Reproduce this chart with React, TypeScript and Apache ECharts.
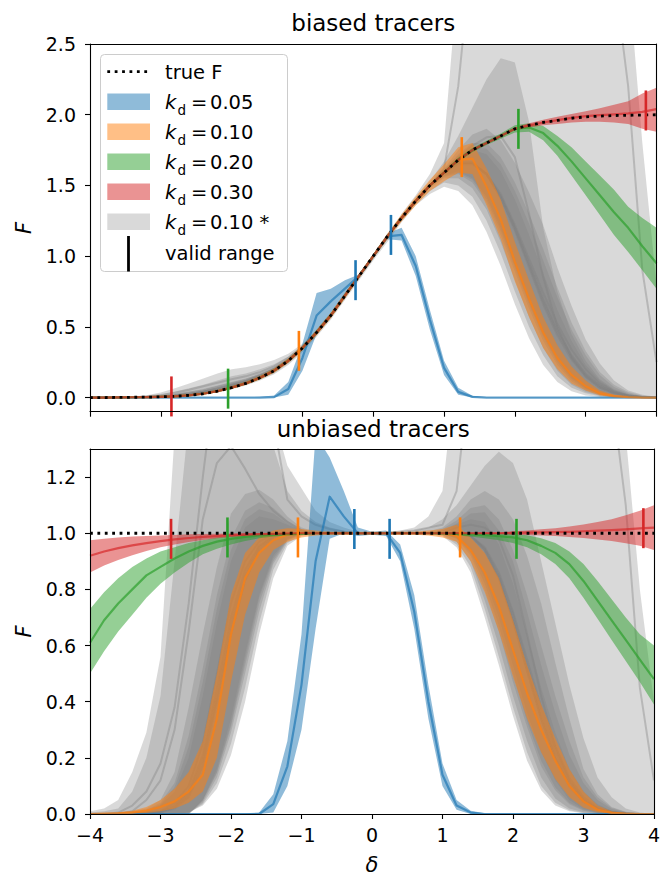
import { useEffect, useRef } from 'react';
import * as echarts from 'echarts';

const FONT = "'DejaVu Sans', 'Noto Sans', sans-serif";

// density contrast grid shared by every curve
const DELTA = [-4.0, -3.8, -3.6, -3.4, -3.2, -3.0, -2.8, -2.6, -2.4, -2.2, -2.0, -1.8, -1.6, -1.4, -1.2, -1.0, -0.8, -0.6, -0.4, -0.2, 0.0, 0.2, 0.4, 0.6, 0.8, 1.0, 1.2, 1.4, 1.6, 1.8, 2.0, 2.2, 2.4, 2.6, 2.8, 3.0, 3.2, 3.4, 3.6, 3.8, 4.0];

const X_TICKS = [-4, -3, -2, -1, 0, 1, 2, 3, 4];
const Y_TICKS_BIASED = [0, 0.5, 1.0, 1.5, 2.0, 2.5];
const Y_TICKS_UNBIASED = [0, 0.2, 0.4, 0.6, 0.8, 1.0, 1.2];

const KD_LABELS = ['0.05', '0.10', '0.20', '0.30'];
const KD_COLORS = ['#1f77b4', '#ff7f0e', '#2ca02c', '#d62728'];
const KD_FILLS = ['rgba(31,119,180,0.5)', 'rgba(255,127,14,0.5)', 'rgba(44,160,44,0.5)', 'rgba(214,39,40,0.5)'];
const STAR_FILL = 'rgba(128,128,128,0.3)';
const STAR_LINE = 'rgba(128,128,128,0.38)';

// ---------- biased tracers ----------
const TRUE_F_BIASED = [0.000, 0.000, 0.001, 0.002, 0.003, 0.005, 0.009, 0.016, 0.027, 0.045, 0.070, 0.100, 0.140, 0.190, 0.260, 0.350, 0.460, 0.580, 0.720, 0.860, 1.000, 1.140, 1.270, 1.390, 1.500, 1.590, 1.680, 1.750, 1.800, 1.850, 1.900, 1.925, 1.945, 1.960, 1.975, 1.985, 1.990, 1.994, 1.996, 1.998, 2.000];

const BIASED_KD005_LO = [0, 0, 0, 0, 0, 0, 0, 0, 0, 0, 0, 0, 0, 0, 0.02, 0.19, 0.45, 0.60, 0.73, 0.85, 0.99, 1.12, 1.11, 0.86, 0.48, 0.16, 0.02, 0, 0, 0, 0, 0, 0, 0, 0, 0, 0, 0, 0, 0, 0];
const BIASED_KD005_MID = [0, 0, 0, 0, 0, 0, 0, 0, 0, 0, 0, 0, 0, 0.003, 0.06, 0.28, 0.58, 0.68, 0.77, 0.86, 1.0, 1.14, 1.15, 0.93, 0.55, 0.21, 0.04, 0.005, 0, 0, 0, 0, 0, 0, 0, 0, 0, 0, 0, 0, 0];
const BIASED_KD005_HI = [0.004, 0.004, 0.004, 0.004, 0.004, 0.004, 0.004, 0.004, 0.004, 0.004, 0.004, 0.004, 0.005, 0.015, 0.11, 0.38, 0.74, 0.77, 0.83, 0.87, 1.01, 1.16, 1.2, 1.0, 0.62, 0.26, 0.07, 0.012, 0.004, 0.004, 0.004, 0.004, 0.004, 0.004, 0.004, 0.004, 0.004, 0.004, 0.004, 0.004, 0.004];

const BIASED_KD010_LO = [0, 0, 0, 0.001, 0.002, 0.003, 0.006, 0.012, 0.022, 0.038, 0.062, 0.09, 0.128, 0.176, 0.244, 0.332, 0.44, 0.56, 0.70, 0.845, 0.985, 1.12, 1.245, 1.36, 1.46, 1.53, 1.59, 1.58, 1.36, 1.12, 0.82, 0.57, 0.35, 0.2, 0.1, 0.05, 0.015, 0.003, 0, 0, 0];
const BIASED_KD010_MID = [0, 0, 0.001, 0.002, 0.003, 0.005, 0.009, 0.016, 0.027, 0.045, 0.07, 0.1, 0.14, 0.19, 0.26, 0.35, 0.46, 0.58, 0.72, 0.86, 1.0, 1.14, 1.27, 1.39, 1.5, 1.59, 1.68, 1.69, 1.49, 1.26, 0.96, 0.70, 0.46, 0.28, 0.16, 0.08, 0.03, 0.01, 0.003, 0, 0];
const BIASED_KD010_HI = [0.002, 0.002, 0.003, 0.004, 0.006, 0.009, 0.014, 0.022, 0.034, 0.054, 0.08, 0.112, 0.153, 0.205, 0.276, 0.368, 0.48, 0.6, 0.74, 0.876, 1.015, 1.16, 1.295, 1.42, 1.54, 1.65, 1.77, 1.80, 1.62, 1.40, 1.10, 0.83, 0.57, 0.37, 0.22, 0.12, 0.05, 0.02, 0.006, 0.002, 0];

const BIASED_KD020_LO = [0, 0, 0, 0.001, 0.002, 0.004, 0.007, 0.013, 0.023, 0.04, 0.064, 0.093, 0.132, 0.18, 0.249, 0.338, 0.448, 0.568, 0.708, 0.848, 0.99, 1.13, 1.26, 1.38, 1.49, 1.58, 1.665, 1.735, 1.785, 1.83, 1.875, 1.88, 1.82, 1.71, 1.57, 1.43, 1.29, 1.15, 1.03, 0.9, 0.77];
const BIASED_KD020_MID = [0, 0, 0.001, 0.002, 0.003, 0.005, 0.009, 0.016, 0.027, 0.045, 0.07, 0.1, 0.14, 0.19, 0.26, 0.35, 0.46, 0.58, 0.72, 0.86, 1.0, 1.14, 1.27, 1.39, 1.5, 1.59, 1.68, 1.75, 1.8, 1.85, 1.90, 1.91, 1.87, 1.78, 1.67, 1.55, 1.43, 1.31, 1.2, 1.07, 0.95];
const BIASED_KD020_HI = [0.001, 0.001, 0.002, 0.003, 0.005, 0.007, 0.012, 0.02, 0.032, 0.051, 0.077, 0.108, 0.149, 0.2, 0.271, 0.362, 0.472, 0.592, 0.732, 0.872, 1.01, 1.15, 1.28, 1.4, 1.51, 1.6, 1.695, 1.765, 1.815, 1.868, 1.925, 1.94, 1.92, 1.85, 1.77, 1.67, 1.57, 1.47, 1.35, 1.27, 1.2];

const BIASED_KD030_LO = [0, 0, 0, 0.001, 0.002, 0.004, 0.007, 0.014, 0.024, 0.041, 0.065, 0.095, 0.134, 0.183, 0.252, 0.342, 0.452, 0.572, 0.712, 0.852, 0.992, 1.132, 1.262, 1.382, 1.492, 1.582, 1.672, 1.742, 1.792, 1.842, 1.89, 1.91, 1.925, 1.935, 1.945, 1.95, 1.95, 1.945, 1.935, 1.9, 1.88];
const BIASED_KD030_MID = [0, 0, 0.001, 0.002, 0.003, 0.005, 0.009, 0.016, 0.027, 0.045, 0.07, 0.1, 0.14, 0.19, 0.26, 0.35, 0.46, 0.58, 0.72, 0.86, 1.0, 1.14, 1.27, 1.39, 1.5, 1.59, 1.68, 1.75, 1.8, 1.85, 1.9, 1.925, 1.945, 1.962, 1.978, 1.99, 1.997, 2.003, 2.01, 2.02, 2.04];
const BIASED_KD030_HI = [0.001, 0.001, 0.002, 0.003, 0.004, 0.006, 0.011, 0.018, 0.03, 0.049, 0.075, 0.105, 0.146, 0.197, 0.268, 0.358, 0.468, 0.588, 0.728, 0.868, 1.008, 1.148, 1.278, 1.398, 1.508, 1.598, 1.688, 1.758, 1.808, 1.858, 1.91, 1.94, 1.965, 1.985, 2.005, 2.025, 2.045, 2.07, 2.095, 2.15, 2.19];

// k_d = 0.10 * realisations
const BIASED_STAR1_LO = [0, 0, 0, 0.001, 0.002, 0.004, 0.007, 0.013, 0.022, 0.037, 0.058, 0.085, 0.12, 0.165, 0.23, 0.32, 0.43, 0.55, 0.69, 0.83, 0.97, 1.1, 1.24, 1.36, 1.44, 1.49, 1.46, 1.36, 1.17, 0.93, 0.66, 0.42, 0.23, 0.11, 0.045, 0.015, 0.004, 0, 0, 0, 0];
const BIASED_STAR1_MID = [0, 0, 0.001, 0.003, 0.008, 0.018, 0.034, 0.055, 0.08, 0.105, 0.13, 0.15, 0.18, 0.22, 0.28, 0.36, 0.47, 0.59, 0.73, 0.865, 1.0, 1.14, 1.27, 1.39, 1.5, 1.62, 2.2, 3.2, 3.2, 3.2, 3.2, 3.2, 3.2, 3.2, 3.2, 3.2, 3.2, 3.0, 2.2, 0.9, 0.25];
const BIASED_STAR1_HI = [0, 0.0005, 0.002, 0.006, 0.016, 0.035, 0.065, 0.1, 0.135, 0.17, 0.2, 0.215, 0.235, 0.265, 0.31, 0.38, 0.48, 0.6, 0.735, 0.87, 1.01, 1.15, 1.3, 1.43, 1.58, 1.8, 3, 3, 3, 3, 3, 3, 3, 3, 3, 3, 3, 3, 3, 1.8, 0.8];

const BIASED_STAR2_LO = [0, 0, 0.001, 0.001, 0.002, 0.004, 0.008, 0.014, 0.024, 0.04, 0.062, 0.09, 0.127, 0.172, 0.24, 0.33, 0.44, 0.56, 0.70, 0.84, 0.98, 1.12, 1.25, 1.37, 1.46, 1.52, 1.5, 1.42, 1.25, 1.02, 0.75, 0.5, 0.3, 0.15, 0.07, 0.03, 0.01, 0.003, 0, 0, 0];
const BIASED_STAR2_MID = [0, 0, 0.001, 0.002, 0.005, 0.01, 0.02, 0.035, 0.05, 0.075, 0.1, 0.125, 0.16, 0.2, 0.265, 0.355, 0.465, 0.585, 0.725, 0.862, 1.0, 1.14, 1.27, 1.39, 1.5, 1.6, 1.7, 1.78, 1.84, 1.85, 1.7, 1.3, 0.85, 0.5, 0.28, 0.15, 0.07, 0.03, 0.01, 0.003, 0];
const BIASED_STAR2_HI = [0, 0, 0.001, 0.004, 0.01, 0.022, 0.042, 0.065, 0.09, 0.12, 0.15, 0.17, 0.2, 0.235, 0.29, 0.37, 0.475, 0.595, 0.73, 0.866, 1.005, 1.145, 1.29, 1.41, 1.53, 1.67, 1.85, 2.05, 2.25, 2.4, 2.37, 1.95, 1.2, 0.75, 0.45, 0.26, 0.13, 0.06, 0.025, 0.008, 0.002];

const BIASED_STAR3_LO = [0, 0, 0, 0.001, 0.002, 0.004, 0.008, 0.015, 0.025, 0.042, 0.065, 0.094, 0.132, 0.18, 0.248, 0.338, 0.448, 0.568, 0.708, 0.848, 0.985, 1.125, 1.265, 1.385, 1.48, 1.55, 1.55, 1.48, 1.33, 1.1, 0.83, 0.57, 0.35, 0.19, 0.09, 0.04, 0.015, 0.004, 0, 0, 0];
const BIASED_STAR3_MID = [0, 0, 0, 0.002, 0.004, 0.008, 0.015, 0.026, 0.042, 0.063, 0.088, 0.115, 0.152, 0.2, 0.265, 0.353, 0.462, 0.58, 0.72, 0.858, 1.0, 1.14, 1.27, 1.39, 1.5, 1.59, 1.65, 1.65, 1.58, 1.44, 1.22, 0.98, 0.74, 0.52, 0.34, 0.2, 0.1, 0.045, 0.015, 0.004, 0];
const BIASED_STAR3_HI = [0, 0, 0.001, 0.003, 0.007, 0.014, 0.025, 0.04, 0.06, 0.085, 0.11, 0.135, 0.17, 0.215, 0.278, 0.365, 0.472, 0.59, 0.728, 0.865, 1.003, 1.143, 1.28, 1.4, 1.51, 1.62, 1.75, 1.86, 1.9, 1.82, 1.66, 1.45, 1.22, 0.92, 0.65, 0.41, 0.24, 0.12, 0.05, 0.02, 0.005];

const BIASED_STAR4_LO = [0, 0, 0, 0.001, 0.002, 0.004, 0.008, 0.015, 0.026, 0.043, 0.067, 0.096, 0.135, 0.183, 0.252, 0.342, 0.452, 0.572, 0.712, 0.852, 0.99, 1.13, 1.268, 1.385, 1.49, 1.57, 1.6, 1.55, 1.42, 1.2, 0.94, 0.68, 0.45, 0.27, 0.14, 0.065, 0.025, 0.008, 0.002, 0, 0];
const BIASED_STAR4_MID = [0, 0, 0, 0.002, 0.003, 0.006, 0.011, 0.02, 0.032, 0.05, 0.076, 0.105, 0.145, 0.195, 0.262, 0.352, 0.46, 0.58, 0.72, 0.858, 1.0, 1.14, 1.272, 1.39, 1.5, 1.59, 1.66, 1.66, 1.58, 1.41, 1.18, 0.92, 0.66, 0.44, 0.27, 0.15, 0.07, 0.03, 0.01, 0.002, 0];
const BIASED_STAR4_HI = [0, 0, 0.001, 0.002, 0.004, 0.008, 0.014, 0.024, 0.038, 0.058, 0.085, 0.115, 0.155, 0.205, 0.272, 0.36, 0.468, 0.586, 0.725, 0.863, 1.002, 1.142, 1.275, 1.395, 1.505, 1.6, 1.69, 1.75, 1.72, 1.6, 1.4, 1.15, 0.88, 0.62, 0.4, 0.23, 0.12, 0.05, 0.02, 0.005, 0];

const BIASED_STAR5_LO = [0, 0, 0, 0.001, 0.002, 0.004, 0.008, 0.015, 0.025, 0.042, 0.066, 0.095, 0.133, 0.181, 0.25, 0.34, 0.45, 0.57, 0.71, 0.85, 0.988, 1.128, 1.266, 1.385, 1.485, 1.56, 1.58, 1.52, 1.38, 1.15, 0.89, 0.63, 0.4, 0.23, 0.115, 0.05, 0.02, 0.006, 0.001, 0, 0];
const BIASED_STAR5_MID = [0, 0, 0, 0.002, 0.003, 0.007, 0.013, 0.023, 0.037, 0.056, 0.082, 0.11, 0.148, 0.197, 0.263, 0.352, 0.461, 0.58, 0.72, 0.858, 1.0, 1.14, 1.27, 1.39, 1.5, 1.59, 1.66, 1.66, 1.58, 1.42, 1.2, 0.95, 0.7, 0.48, 0.3, 0.17, 0.085, 0.038, 0.014, 0.004, 0];
const BIASED_STAR5_HI = [0, 0, 0.001, 0.003, 0.005, 0.011, 0.02, 0.032, 0.049, 0.072, 0.098, 0.125, 0.162, 0.21, 0.275, 0.362, 0.47, 0.588, 0.727, 0.864, 1.003, 1.143, 1.278, 1.398, 1.508, 1.61, 1.72, 1.8, 1.8, 1.7, 1.52, 1.3, 1.05, 0.78, 0.53, 0.33, 0.18, 0.09, 0.04, 0.015, 0.004];

const BIASED_STAR6_LO = [0, 0, 0, 0.001, 0.002, 0.004, 0.008, 0.015, 0.025, 0.042, 0.066, 0.095, 0.133, 0.181, 0.25, 0.34, 0.45, 0.57, 0.71, 0.85, 0.99, 1.13, 1.268, 1.386, 1.49, 1.565, 1.59, 1.54, 1.4, 1.18, 0.92, 0.66, 0.43, 0.25, 0.13, 0.06, 0.022, 0.007, 0.002, 0, 0];
const BIASED_STAR6_MID = [0, 0, 0, 0.002, 0.003, 0.007, 0.013, 0.023, 0.037, 0.056, 0.082, 0.11, 0.148, 0.197, 0.263, 0.352, 0.461, 0.58, 0.72, 0.858, 1.0, 1.14, 1.272, 1.39, 1.5, 1.59, 1.66, 1.66, 1.58, 1.42, 1.2, 0.94, 0.68, 0.46, 0.29, 0.16, 0.08, 0.035, 0.012, 0.003, 0];
const BIASED_STAR6_HI = [0, 0, 0.001, 0.003, 0.005, 0.011, 0.02, 0.032, 0.049, 0.072, 0.098, 0.125, 0.162, 0.21, 0.275, 0.362, 0.47, 0.588, 0.727, 0.864, 1.002, 1.142, 1.276, 1.396, 1.506, 1.605, 1.7, 1.77, 1.76, 1.65, 1.46, 1.23, 0.97, 0.71, 0.48, 0.3, 0.16, 0.075, 0.03, 0.01, 0.002];

// ---------- unbiased tracers ----------
const TRUE_F_UNBIASED_DELTA = [-4, 4];
const TRUE_F_UNBIASED = [1, 1];

const UNBIASED_KD005_LO = [0, 0, 0, 0, 0, 0, 0, 0, 0, 0, 0, 0, 0, 0.005, 0.1, 0.3, 0.66, 0.98, 1.0, 0.99, 0.995, 0.99, 0.9, 0.66, 0.34, 0.1, 0.015, 0, 0, 0, 0, 0, 0, 0, 0, 0, 0, 0, 0, 0, 0];
const UNBIASED_KD005_MID = [0, 0, 0, 0, 0, 0, 0, 0, 0, 0, 0, 0, 0, 0.035, 0.17, 0.46, 0.9, 1.13, 1.06, 1.0, 1.0, 1.0, 0.93, 0.72, 0.40, 0.14, 0.03, 0.005, 0, 0, 0, 0, 0, 0, 0, 0, 0, 0, 0, 0, 0];
const UNBIASED_KD005_HI = [0.003, 0.003, 0.003, 0.003, 0.003, 0.003, 0.003, 0.003, 0.003, 0.003, 0.003, 0.003, 0.005, 0.07, 0.26, 0.64, 1.35, 1.27, 1.15, 1.02, 1.005, 1.01, 0.96, 0.78, 0.46, 0.18, 0.05, 0.012, 0.003, 0.003, 0.003, 0.003, 0.003, 0.003, 0.003, 0.003, 0.003, 0.003, 0.003, 0.003, 0.003];

const UNBIASED_KD010_LO = [0, 0, 0, 0.001, 0.004, 0.01, 0.02, 0.04, 0.08, 0.2, 0.47, 0.71, 0.86, 0.94, 0.97, 0.985, 0.992, 0.995, 0.995, 0.995, 0.995, 0.995, 0.995, 0.995, 0.992, 0.985, 0.97, 0.9, 0.79, 0.65, 0.49, 0.34, 0.22, 0.125, 0.06, 0.022, 0.006, 0.001, 0, 0, 0];
const UNBIASED_KD010_MID = [0, 0.001, 0.002, 0.005, 0.012, 0.025, 0.045, 0.08, 0.14, 0.34, 0.64, 0.84, 0.93, 0.975, 0.995, 1.0, 1.0, 1.0, 1.0, 1.0, 1.0, 1.0, 1.0, 1.0, 1.0, 1.0, 0.99, 0.94, 0.86, 0.74, 0.585, 0.43, 0.30, 0.19, 0.10, 0.045, 0.015, 0.004, 0.001, 0, 0];
const UNBIASED_KD010_HI = [0.003, 0.004, 0.006, 0.012, 0.025, 0.05, 0.09, 0.15, 0.26, 0.5, 0.78, 0.93, 0.985, 1.01, 1.018, 1.015, 1.01, 1.005, 1.005, 1.005, 1.005, 1.005, 1.005, 1.005, 1.01, 1.015, 1.03, 0.985, 0.93, 0.84, 0.69, 0.53, 0.39, 0.27, 0.16, 0.08, 0.03, 0.01, 0.003, 0.001, 0];

const UNBIASED_KD020_LO = [0.50, 0.58, 0.65, 0.71, 0.77, 0.82, 0.86, 0.895, 0.925, 0.945, 0.96, 0.972, 0.982, 0.988, 0.992, 0.995, 0.997, 0.997, 0.997, 0.997, 0.997, 0.997, 0.997, 0.997, 0.997, 0.995, 0.992, 0.988, 0.982, 0.975, 0.965, 0.95, 0.925, 0.89, 0.84, 0.77, 0.695, 0.62, 0.545, 0.47, 0.39];
const UNBIASED_KD020_MID = [0.61, 0.69, 0.75, 0.80, 0.85, 0.88, 0.91, 0.935, 0.955, 0.97, 0.98, 0.987, 0.992, 0.995, 0.997, 0.998, 1.0, 1.0, 1.0, 1.0, 1.0, 1.0, 1.0, 1.0, 1.0, 1.0, 0.998, 0.996, 0.993, 0.99, 0.985, 0.975, 0.955, 0.93, 0.89, 0.83, 0.76, 0.69, 0.62, 0.55, 0.48];
const UNBIASED_KD020_HI = [0.73, 0.79, 0.84, 0.88, 0.91, 0.935, 0.95, 0.965, 0.975, 0.985, 0.99, 0.995, 0.998, 1.0, 1.0, 1.0, 1.003, 1.003, 1.003, 1.003, 1.003, 1.003, 1.003, 1.003, 1.003, 1.003, 1.003, 1.002, 1.0, 1.0, 0.998, 0.993, 0.982, 0.965, 0.935, 0.89, 0.83, 0.765, 0.7, 0.64, 0.6];

const UNBIASED_KD030_LO = [0.86, 0.885, 0.905, 0.922, 0.937, 0.95, 0.96, 0.969, 0.976, 0.982, 0.987, 0.99, 0.993, 0.995, 0.996, 0.997, 0.997, 0.997, 0.997, 0.997, 0.997, 0.997, 0.997, 0.997, 0.997, 0.997, 0.997, 0.997, 0.997, 0.997, 0.995, 0.994, 0.992, 0.99, 0.987, 0.983, 0.978, 0.972, 0.964, 0.955, 0.94];
const UNBIASED_KD030_MID = [0.92, 0.935, 0.947, 0.957, 0.965, 0.972, 0.978, 0.983, 0.987, 0.99, 0.993, 0.995, 0.997, 0.998, 0.999, 1.0, 1.0, 1.0, 1.0, 1.0, 1.0, 1.0, 1.0, 1.0, 1.0, 1.0, 1.0, 1.0, 1.0, 1.0, 1.001, 1.002, 1.003, 1.004, 1.005, 1.007, 1.009, 1.011, 1.014, 1.017, 1.02];
const UNBIASED_KD030_HI = [0.975, 0.98, 0.985, 0.988, 0.99, 0.992, 0.994, 0.996, 0.997, 0.998, 0.999, 1.0, 1.0, 1.0, 1.0, 1.003, 1.003, 1.003, 1.003, 1.003, 1.003, 1.003, 1.003, 1.003, 1.003, 1.003, 1.003, 1.003, 1.003, 1.003, 1.007, 1.01, 1.014, 1.018, 1.024, 1.031, 1.04, 1.05, 1.064, 1.08, 1.10];

const UNBIASED_STAR1_LO = [0, 0, 0, 0, 0, 0, 0, 0.005, 0.03, 0.09, 0.21, 0.40, 0.64, 0.84, 0.955, 0.99, 0.997, 0.999, 1, 1, 1, 1, 1, 0.999, 0.997, 0.99, 0.95, 0.86, 0.70, 0.53, 0.35, 0.19, 0.085, 0.03, 0.01, 0.003, 0, 0, 0, 0, 0];
const UNBIASED_STAR1_MID = [0, 0, 0.005, 0.03, 0.08, 0.18, 0.38, 0.75, 1.2, 1.6, 1.8, 1.8, 1.7, 1.4, 1.12, 1.06, 1.03, 1.015, 1.005, 1.0, 1.0, 1.0, 1.005, 1.01, 1.02, 1.03, 1.15, 1.6, 2, 2, 2, 2, 2, 2, 2, 2, 1.8, 1.5, 1.1, 0.45, 0.12];
const UNBIASED_STAR1_HI = [0.01, 0.02, 0.05, 0.15, 0.29, 0.56, 1.35, 2, 2, 2, 2, 2, 2, 1.42, 1.24, 1.16, 1.08, 1.04, 1.02, 1.005, 1.0, 1.005, 1.01, 1.02, 1.06, 1.15, 1.6, 2, 2, 2, 2, 2, 2, 2, 2, 2, 2, 2, 1.35, 0.8, 0.4];

const UNBIASED_STAR2_LO = [0, 0, 0, 0, 0, 0, 0, 0.005, 0.035, 0.11, 0.25, 0.45, 0.68, 0.87, 0.965, 0.993, 0.998, 0.999, 1, 1, 1, 1, 1, 0.999, 0.998, 0.993, 0.96, 0.88, 0.73, 0.56, 0.38, 0.22, 0.10, 0.04, 0.013, 0.004, 0, 0, 0, 0, 0];
const UNBIASED_STAR2_MID = [0, 0, 0, 0.01, 0.05, 0.12, 0.3, 0.65, 1.05, 1.25, 1.31, 1.23, 1.14, 1.08, 1.04, 1.01, 1.0, 1.0, 1.0, 1.0, 1.0, 1.0, 1.0, 1.0, 1.0, 1.0, 1.02, 1.03, 1.02, 0.98, 0.85, 0.64, 0.42, 0.24, 0.12, 0.05, 0.02, 0.005, 0, 0, 0];
const UNBIASED_STAR2_HI = [0.005, 0.01, 0.02, 0.08, 0.2, 0.42, 0.9, 1.4, 1.7, 1.8, 1.8, 1.6, 1.45, 1.31, 1.15, 1.08, 1.04, 1.02, 1.01, 1.0, 1.0, 1.0, 1.0, 1.01, 1.02, 1.05, 1.1, 1.17, 1.24, 1.29, 1.25, 1.12, 0.9, 0.68, 0.46, 0.27, 0.13, 0.06, 0.02, 0.005, 0];

const UNBIASED_STAR3_LO = [0, 0, 0, 0, 0, 0, 0, 0, 0.04, 0.13, 0.29, 0.50, 0.72, 0.89, 0.972, 0.995, 0.999, 1, 1, 1, 1, 1, 1, 1, 0.999, 0.995, 0.97, 0.9, 0.76, 0.6, 0.42, 0.26, 0.13, 0.055, 0.02, 0.006, 0.001, 0, 0, 0, 0];
const UNBIASED_STAR3_MID = [0, 0, 0, 0, 0.005, 0.01, 0.04, 0.1, 0.25, 0.5, 0.75, 0.9, 0.97, 0.995, 1.0, 1.0, 1.0, 1.0, 1.0, 1.0, 1.0, 1.0, 1.0, 1.0, 1.0, 1.0, 1.0, 0.99, 0.95, 0.86, 0.72, 0.55, 0.38, 0.24, 0.13, 0.06, 0.025, 0.008, 0.002, 0, 0];
const UNBIASED_STAR3_HI = [0, 0.002, 0.005, 0.01, 0.02, 0.05, 0.15, 0.38, 0.64, 0.88, 1.07, 1.14, 1.155, 1.12, 1.06, 1.02, 1.005, 1.0, 1.0, 1.0, 1.0, 1.0, 1.0, 1.0, 1.005, 1.02, 1.06, 1.12, 1.15, 1.12, 1.05, 0.92, 0.75, 0.54, 0.34, 0.16, 0.07, 0.025, 0.008, 0.002, 0];

const UNBIASED_STAR4_LO = [0, 0, 0, 0, 0, 0, 0, 0, 0.05, 0.16, 0.34, 0.57, 0.78, 0.92, 0.98, 0.998, 1, 1, 1, 1, 1, 1, 1, 1, 1, 0.998, 0.985, 0.94, 0.84, 0.7, 0.53, 0.36, 0.22, 0.12, 0.05, 0.018, 0.005, 0.001, 0, 0, 0];
const UNBIASED_STAR4_MID = [0, 0, 0, 0, 0, 0.005, 0.02, 0.06, 0.17, 0.4, 0.64, 0.83, 0.94, 0.985, 1.0, 1.0, 1.0, 1.0, 1.0, 1.0, 1.0, 1.0, 1.0, 1.0, 1.0, 1.0, 1.0, 0.99, 0.94, 0.84, 0.69, 0.51, 0.34, 0.2, 0.1, 0.045, 0.017, 0.005, 0.001, 0, 0];
const UNBIASED_STAR4_HI = [0, 0, 0.001, 0.003, 0.008, 0.03, 0.08, 0.2, 0.42, 0.68, 0.9, 1.02, 1.06, 1.05, 1.03, 1.01, 1.0, 1.0, 1.0, 1.0, 1.0, 1.0, 1.0, 1.0, 1.0, 1.01, 1.03, 1.05, 1.04, 0.96, 0.82, 0.64, 0.45, 0.29, 0.16, 0.08, 0.035, 0.012, 0.004, 0.001, 0];

const UNBIASED_STAR5_LO = [0, 0, 0, 0, 0, 0, 0, 0, 0.045, 0.145, 0.31, 0.53, 0.75, 0.9, 0.975, 0.997, 1, 1, 1, 1, 1, 1, 1, 1, 1, 0.997, 0.98, 0.92, 0.8, 0.65, 0.47, 0.31, 0.17, 0.085, 0.035, 0.012, 0.003, 0, 0, 0, 0];
const UNBIASED_STAR5_MID = [0, 0, 0, 0, 0.003, 0.008, 0.03, 0.08, 0.21, 0.45, 0.7, 0.87, 0.955, 0.99, 1, 1, 1, 1, 1, 1, 1, 1, 1, 1, 1, 1, 1, 0.99, 0.945, 0.85, 0.71, 0.53, 0.36, 0.22, 0.115, 0.052, 0.02, 0.006, 0.001, 0, 0];
const UNBIASED_STAR5_HI = [0, 0.001, 0.003, 0.006, 0.014, 0.04, 0.11, 0.28, 0.52, 0.78, 0.98, 1.08, 1.11, 1.09, 1.045, 1.015, 1.002, 1, 1, 1, 1, 1, 1, 1, 1.002, 1.015, 1.045, 1.09, 1.1, 1.05, 0.94, 0.78, 0.6, 0.42, 0.26, 0.13, 0.06, 0.022, 0.007, 0.002, 0];

const UNBIASED_STAR6_LO = [0, 0, 0, 0, 0, 0, 0, 0, 0.05, 0.15, 0.32, 0.55, 0.77, 0.91, 0.978, 0.997, 1, 1, 1, 1, 1, 1, 1, 1, 1, 0.998, 0.982, 0.93, 0.82, 0.67, 0.5, 0.33, 0.19, 0.095, 0.04, 0.014, 0.004, 0, 0, 0, 0];
const UNBIASED_STAR6_MID = [0, 0, 0, 0, 0.002, 0.007, 0.025, 0.07, 0.19, 0.42, 0.67, 0.85, 0.95, 0.988, 1, 1, 1, 1, 1, 1, 1, 1, 1, 1, 1, 1, 1, 0.99, 0.94, 0.84, 0.69, 0.51, 0.34, 0.2, 0.1, 0.045, 0.017, 0.005, 0.001, 0, 0];
const UNBIASED_STAR6_HI = [0, 0, 0.002, 0.005, 0.011, 0.035, 0.095, 0.24, 0.47, 0.73, 0.94, 1.05, 1.085, 1.07, 1.035, 1.01, 1.001, 1, 1, 1, 1, 1, 1, 1, 1.001, 1.01, 1.035, 1.07, 1.075, 1.01, 0.9, 0.72, 0.53, 0.36, 0.21, 0.11, 0.05, 0.018, 0.006, 0.002, 0];

// valid range ends: which k_d, where, and the curve value there
const VALID_KD_INDEX = [0, 0, 1, 1, 2, 2, 3, 3];
const VALID_DELTA = [-0.25, 0.25, -1.05, 1.25, -2.05, 2.05, -2.85, 3.85];
const VALID_F_BIASED = [0.83, 1.15, 0.33, 1.70, 0.063, 1.90, 0.008, 2.03];
const VALID_F_UNBIASED = [1.015, 0.98, 0.985, 0.985, 0.985, 0.98, 0.98, 1.018];

// layout of the two panels (pixels)
const PLOT_LEFT = 90;
const PLOT_WIDTH = 566.5;
const PLOT_HEIGHT = 367.7;
const TOP_PANEL_Y = 44;
const BOTTOM_PANEL_Y = 449;
const MARKER_HALF = 20;

function band(gridIndex: number, lo: number[], hi: number[], fill: string, z: number) {
  return {
    type: 'custom',
    xAxisIndex: gridIndex,
    yAxisIndex: gridIndex,
    clip: true,
    silent: true,
    z,
    data: DELTA.map((x, i) => [x, lo[i], hi[i]]),
    encode: { x: 0, y: [1, 2] },
    renderItem: (params: any, api: any) => {
      if (params.dataIndex !== 0) return null;
      const upper: number[][] = [];
      const lower: number[][] = [];
      for (let i = 0; i < DELTA.length; i++) {
        upper.push(api.coord([DELTA[i], hi[i]]));
        lower.push(api.coord([DELTA[i], lo[i]]));
      }
      return {
        type: 'polygon',
        shape: { points: upper.concat(lower.reverse()) },
        style: { fill, stroke: null },
      };
    },
  };
}

function curve(gridIndex: number, xs: number[], ys: number[], color: string, width: number, z: number, dash?: number[]) {
  return {
    type: 'line',
    xAxisIndex: gridIndex,
    yAxisIndex: gridIndex,
    data: xs.map((x, i) => [x, ys[i]]),
    showSymbol: false,
    symbol: 'none',
    silent: true,
    animation: false,
    z,
    lineStyle: { color, width, type: dash ?? 'solid', cap: 'butt', join: 'round' },
    emphasis: { disabled: true },
  };
}

function validMarks(gridIndex: number, fs: number[]) {
  return {
    type: 'custom',
    xAxisIndex: gridIndex,
    yAxisIndex: gridIndex,
    clip: false,
    silent: true,
    z: 8,
    data: VALID_DELTA.map((x, i) => [x, fs[i], VALID_KD_INDEX[i]]),
    encode: { x: 0, y: 1 },
    renderItem: (_params: any, api: any) => {
      const p = api.coord([api.value(0), api.value(1)]);
      return {
        type: 'line',
        shape: { x1: p[0], y1: p[1] - MARKER_HALF, x2: p[0], y2: p[1] + MARKER_HALF },
        style: { stroke: KD_COLORS[api.value(2)], lineWidth: 2.6 },
      };
    },
  };
}

function panelSeries(
  gridIndex: number,
  stars: number[][][],
  kds: number[][][],
  trueX: number[],
  trueF: number[],
  validF: number[],
) {
  const out: any[] = [];
  stars.forEach(([lo, , hi]) => out.push(band(gridIndex, lo, hi, STAR_FILL, 1)));
  stars.forEach(([, mid]) => out.push(curve(gridIndex, DELTA, mid, STAR_LINE, 2, 2)));
  kds.forEach(([lo, , hi], k) => out.push(band(gridIndex, lo, hi, KD_FILLS[k], 3)));
  kds.forEach(([, mid], k) => out.push(curve(gridIndex, DELTA, mid, KD_COLORS[k] + 'b0', 2.2, 4)));
  out.push(curve(gridIndex, trueX, trueF, '#000', 2.8, 6, [2.8, 4.6]));
  out.push(validMarks(gridIndex, validF));
  return out;
}

const AXIS_LINE = { show: true, onZero: false, lineStyle: { color: '#000', width: 1.1 } };
const TICK_FONT = { fontFamily: FONT, fontSize: 19, color: '#000' };
const minusFmt = (v: number) => (v < 0 ? '\u2212' + Math.abs(v) : String(v));

function xAxisFor(gridIndex: number, labels: boolean) {
  return {
    type: 'value',
    gridIndex,
    min: -4,
    max: 4,
    interval: 1,
    z: 10,
    splitLine: { show: false },
    axisLine: AXIS_LINE,
    axisTick: { show: true, inside: false, length: 5, lineStyle: { color: '#000', width: 1.1 } },
    axisLabel: { show: labels, ...TICK_FONT, margin: 11, formatter: minusFmt, customValues: X_TICKS },
    ...(labels
      ? {
          name: 'δ',
          nameLocation: 'middle',
          nameGap: 40,
          nameTextStyle: { fontFamily: FONT, fontSize: 21, fontStyle: 'italic', color: '#000' },
        }
      : {}),
  };
}

function spineX(gridIndex: number) {
  return {
    type: 'value', gridIndex, position: 'top', min: -4, max: 4, z: 10,
    axisLine: AXIS_LINE, axisTick: { show: false }, axisLabel: { show: false }, splitLine: { show: false },
  };
}

function yAxisFor(gridIndex: number, min: number, max: number, ticks: number[]) {
  return {
    type: 'value',
    gridIndex,
    min,
    max,
    z: 10,
    splitLine: { show: false },
    axisLine: AXIS_LINE,
    axisTick: { show: true, inside: false, length: 5, customValues: ticks, lineStyle: { color: '#000', width: 1.1 } },
    axisLabel: { ...TICK_FONT, margin: 14, customValues: ticks, formatter: (v: number) => v.toFixed(1) },
    name: 'F',
    nameLocation: 'middle',
    nameGap: 56,
    nameTextStyle: { fontFamily: FONT, fontSize: 21, fontStyle: 'italic', color: '#000' },
  };
}

function spineY(gridIndex: number, min: number, max: number) {
  return {
    type: 'value', gridIndex, position: 'right', min, max, z: 10,
    axisLine: AXIS_LINE, axisTick: { show: false }, axisLabel: { show: false }, splitLine: { show: false },
  };
}

function legendGraphics() {
  const rows = [71.7, 101.7, 131.7, 161.7, 191.7, 221.7, 253];
  const x0 = 107.3;
  const x1 = 150;
  const tx = 165;
  const txt = (text: string, x: number, y: number, size: number, italic = false) => ({
    type: 'text',
    x,
    y,
    z: 101,
    style: {
      text,
      fontFamily: FONT,
      fontSize: size,
      fontStyle: italic ? 'italic' : 'normal',
      fill: '#000',
      align: 'left',
      textAlign: 'left',
      verticalAlign: 'middle',
      textVerticalAlign: 'middle',
    },
  });
  const els: any[] = [
    {
      type: 'rect',
      z: 100,
      shape: { x: 100.5, y: 54.5, width: 187, height: 217, r: 4 },
      style: { fill: 'rgba(255,255,255,0.8)', stroke: '#cccccc', lineWidth: 1 },
    },
    {
      type: 'line',
      z: 101,
      shape: { x1: x0, y1: rows[0], x2: x1, y2: rows[0] },
      style: { stroke: '#000', lineWidth: 2.8, lineDash: [2.8, 4.6] },
    },
    txt('true F', tx, rows[0] + 0.5, 19.5),
  ];
  const fills = [...KD_FILLS, STAR_FILL];
  const values = [...KD_LABELS, '0.10 *'];
  fills.forEach((f, i) => {
    const y = rows[i + 1];
    els.push({ type: 'rect', z: 101, shape: { x: x0, y: y - 8.3, width: x1 - x0, height: 16.7 }, style: { fill: f } });
    els.push(txt('k', tx, y + 0.5, 19.5, true));
    els.push(txt('d', tx + 12.5, y + 8, 13.5));
    els.push(txt('=', tx + 26, y + 0.5, 19.5));
    els.push(txt(values[i], tx + 45, y + 0.5, 19.5));
  });
  els.push({
    type: 'line',
    z: 101,
    shape: { x1: 128.5, y1: 236, x2: 128.5, y2: 271.5 },
    style: { stroke: '#000', lineWidth: 2.8 },
  });
  els.push(txt('valid range', tx, rows[6] + 0.5, 19.5));
  return els;
}

function titleText(text: string, y: number) {
  return {
    type: 'text',
    x: PLOT_LEFT + PLOT_WIDTH / 2,
    y,
    z: 50,
    style: {
      text,
      fontFamily: FONT,
      fontSize: 23,
      fill: '#000',
      align: 'center',
      textAlign: 'center',
      verticalAlign: 'middle',
      textVerticalAlign: 'middle',
    },
  };
}

function buildOption() {
  const biasedStars = [
    [BIASED_STAR1_LO, BIASED_STAR1_MID, BIASED_STAR1_HI],
    [BIASED_STAR2_LO, BIASED_STAR2_MID, BIASED_STAR2_HI],
    [BIASED_STAR3_LO, BIASED_STAR3_MID, BIASED_STAR3_HI],
    [BIASED_STAR4_LO, BIASED_STAR4_MID, BIASED_STAR4_HI],
    [BIASED_STAR5_LO, BIASED_STAR5_MID, BIASED_STAR5_HI],
    [BIASED_STAR6_LO, BIASED_STAR6_MID, BIASED_STAR6_HI],
  ];
  const biasedKd = [
    [BIASED_KD005_LO, BIASED_KD005_MID, BIASED_KD005_HI],
    [BIASED_KD010_LO, BIASED_KD010_MID, BIASED_KD010_HI],
    [BIASED_KD020_LO, BIASED_KD020_MID, BIASED_KD020_HI],
    [BIASED_KD030_LO, BIASED_KD030_MID, BIASED_KD030_HI],
  ];
  const unbiasedStars = [
    [UNBIASED_STAR1_LO, UNBIASED_STAR1_MID, UNBIASED_STAR1_HI],
    [UNBIASED_STAR2_LO, UNBIASED_STAR2_MID, UNBIASED_STAR2_HI],
    [UNBIASED_STAR3_LO, UNBIASED_STAR3_MID, UNBIASED_STAR3_HI],
    [UNBIASED_STAR4_LO, UNBIASED_STAR4_MID, UNBIASED_STAR4_HI],
    [UNBIASED_STAR5_LO, UNBIASED_STAR5_MID, UNBIASED_STAR5_HI],
    [UNBIASED_STAR6_LO, UNBIASED_STAR6_MID, UNBIASED_STAR6_HI],
  ];
  const unbiasedKd = [
    [UNBIASED_KD005_LO, UNBIASED_KD005_MID, UNBIASED_KD005_HI],
    [UNBIASED_KD010_LO, UNBIASED_KD010_MID, UNBIASED_KD010_HI],
    [UNBIASED_KD020_LO, UNBIASED_KD020_MID, UNBIASED_KD020_HI],
    [UNBIASED_KD030_LO, UNBIASED_KD030_MID, UNBIASED_KD030_HI],
  ];

  return {
    animation: false,
    backgroundColor: '#ffffff',
    grid: [
      { left: PLOT_LEFT, top: TOP_PANEL_Y, width: PLOT_WIDTH, height: PLOT_HEIGHT, show: false },
      { left: PLOT_LEFT, top: BOTTOM_PANEL_Y, width: PLOT_WIDTH, height: PLOT_HEIGHT, show: false },
    ],
    xAxis: [xAxisFor(0, false), xAxisFor(1, true), spineX(0), spineX(1)],
    yAxis: [
      yAxisFor(0, -0.1, 2.5, Y_TICKS_BIASED),
      yAxisFor(1, 0, 1.3, Y_TICKS_UNBIASED),
      spineY(0, -0.1, 2.5),
      spineY(1, 0, 1.3),
    ],
    series: [
      ...panelSeries(0, biasedStars, biasedKd, DELTA, TRUE_F_BIASED, VALID_F_BIASED),
      ...panelSeries(1, unbiasedStars, unbiasedKd, TRUE_F_UNBIASED_DELTA, TRUE_F_UNBIASED, VALID_F_UNBIASED),
    ],
    graphic: [titleText('biased tracers', 23.4), titleText('unbiased tracers', 429.4), ...legendGraphics()],
  };
}

export default function App() {
  const ref = useRef<HTMLDivElement>(null);
  useEffect(() => {
    if (!ref.current) return;
    const chart = echarts.init(ref.current, null, { renderer: 'svg', width: 663, height: 876 });
    chart.setOption(buildOption() as any);
    return () => chart.dispose();
  }, []);
  return (
    <div
      ref={ref}
      style={{ position: 'fixed', left: 0, top: 0, width: 663, height: 876, background: '#ffffff' }}
    />
  );
}
